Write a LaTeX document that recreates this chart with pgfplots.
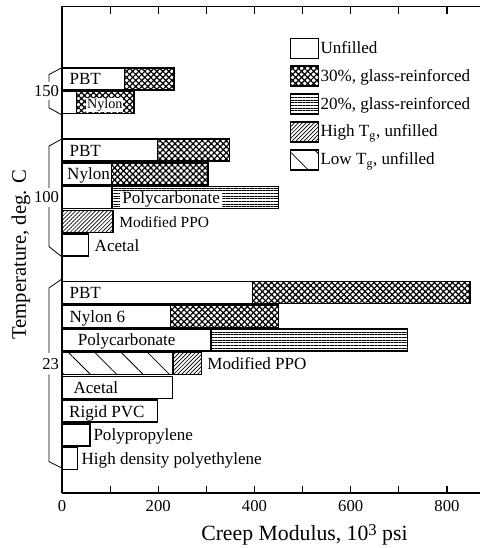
\documentclass[border=0pt]{standalone}
\usepackage{fontspec}
\setmainfont{Liberation Serif}
\usepackage{pgfplots}
\pgfplotsset{compat=1.18}
\usetikzlibrary{patterns.meta}

\newcommand\lbl{\fontsize{12.8}{14}\selectfont}

% legend swatch: a plain box drawn with the plot's own style
\pgfplotsset{legbox/.style={legend image code/.code={%
  \draw[##1, draw=black, line width=1.1pt] (0pt,-7.5pt) rectangle (21pt,7.5pt);}}}

\begin{document}
\begin{tikzpicture}
\begin{axis}[
    name=ax,
    scale only axis,
    width=313.5pt, height=364.9pt,
    xmin=0, xmax=868.6,
    ymin=-17.45, ymax=3.05,
    clip=false,
    axis x line*=box, axis y line*=left,
    axis line style={line width=1.2pt},
    xbar, bar width=0.93, bar shift=0pt,
    tick align=inside,
    major tick length=5.5pt,
    xtick={0,100,...,800},
    xticklabels={0,,200,,400,,600,,800},
    xtick style={line width=0.9pt, black},
    ytick={-12,-5,-0.5},
    yticklabels={23,100,150},
    ytick style={draw=none},
    tick label style={font=\fontsize{12.5}{14}\selectfont},
    xticklabel style={yshift=-2.3pt},
    yticklabel style={inner sep=2pt},
    /pgf/number format/assume math mode=true,
    xlabel={Creep Modulus, 10\raisebox{0.45ex}{\fontsize{12.5}{12}\selectfont 3} psi},
    every axis x label/.style={at={(rel axis cs:0.58,0)}, anchor=base,
        yshift=-35.25pt, font=\fontsize{16.3}{18}\selectfont},
    ylabel={Temperature, deg. C},
    every axis y label/.style={at={([xshift=-27pt]rel axis cs:0,0.49)},
        rotate=90, anchor=base, font=\fontsize{15.5}{17}\selectfont},
    legend style={at={(rel axis cs:0.5455,0.936)}, anchor=north west,
        draw=none, fill=none, inner sep=0pt, outer sep=0pt,
        row sep=4.8pt, font=\lbl, nodes={inner sep=0.8pt}},
    legend cell align=left,
]

% patterned parts are drawn full length, the first part is laid over them
% 30%, glass-reinforced
\addplot[forget plot, draw=black, line width=1.1pt,
    pattern={Hatch[angle=45,distance=3.2pt,line width=0.9pt]}]
coordinates {(233,0) (150,-1) (348,-3) (303,-4) (848,-9) (450,-10)};
% 20%, glass-reinforced
\addplot[forget plot, draw=black, line width=1.1pt,
    pattern={Lines[angle=0,distance=2pt,line width=0.6pt]}]
coordinates {(450,-5) (718,-11)};
% High Tg, unfilled
\addplot[forget plot, draw=black, line width=1.1pt,
    pattern={Lines[angle=45,distance=2.1pt,line width=0.5pt]}]
coordinates {(106,-6) (290,-12)};
% Unfilled
\addplot[forget plot, draw=black, line width=1.1pt, fill=white]
coordinates {(130,0) (30,-1) (198,-3) (103,-4) (104,-5) (55,-7)
    (396,-9) (226,-10) (310,-11) (230,-13) (198,-14) (58,-15) (32,-16)};
% Low Tg, unfilled
\addplot[forget plot, draw=black, line width=1.1pt, preaction={fill=white},
    pattern={Lines[angle=-45,distance=14pt,line width=0.6pt]}]
coordinates {(231,-12)};

\addlegendimage{legbox, fill=white}
\addlegendentry{Unfilled}
\addlegendimage{legbox, pattern={Hatch[angle=45,distance=3.2pt,line width=0.9pt]}}
\addlegendentry{30\%, glass-reinforced}
\addlegendimage{legbox, pattern={Lines[angle=0,distance=2pt,line width=0.6pt]}}
\addlegendentry{20\%, glass-reinforced}
\addlegendimage{legbox, pattern={Lines[angle=45,distance=2.1pt,line width=0.5pt]}}
\addlegendentry{High T\textsubscript{g}, unfilled}
\addlegendimage{legbox, pattern={Lines[angle=-45,distance=14pt,line width=0.6pt]}}
\addlegendentry{Low T\textsubscript{g}, unfilled}

% braces that group the bars by temperature
\draw[line width=0.6pt] (axis cs:0,0.476) -- ([xshift=-9.75pt]axis cs:0,0.18)
    -- ([xshift=-9.75pt]axis cs:0,-0.12);
\draw[line width=0.6pt] ([xshift=-9.75pt]axis cs:0,-0.88)
    -- ([xshift=-9.75pt]axis cs:0,-1.22) -- (axis cs:0,-1.52);
\draw[line width=0.6pt] (axis cs:0,-2.53) -- ([xshift=-9.75pt]axis cs:0,-2.83)
    -- ([xshift=-9.75pt]axis cs:0,-4.6);
\draw[line width=0.6pt] ([xshift=-9.75pt]axis cs:0,-5.4)
    -- ([xshift=-9.75pt]axis cs:0,-7.07) -- (axis cs:0,-7.5);
\draw[line width=0.6pt] (axis cs:0,-8.43) -- ([xshift=-9.75pt]axis cs:0,-8.81)
    -- ([xshift=-9.75pt]axis cs:0,-11.55);
\draw[line width=0.6pt] ([xshift=-9.75pt]axis cs:0,-12.45)
    -- ([xshift=-9.75pt]axis cs:0,-16.13) -- (axis cs:0,-16.4);

% bar names
\begin{scope}[every node/.style={font=\lbl, inner sep=0pt, anchor=base west, yshift=-4.5pt}]
\node[xshift=5.5pt] at (axis cs:0,0) {PBT};
\node[anchor=base, fill=white, inner sep=0.6pt, font=\fontsize{10.6}{12}\selectfont]
    at (axis cs:89,-1) {Nylon};
\node[xshift=5.5pt] at (axis cs:0,-3) {PBT};
\node[xshift=3.7pt] at (axis cs:0,-4) {Nylon};
\node[anchor=base, fill=white, inner xsep=1.5pt, inner ysep=0.5pt] at (axis cs:227,-5) {Polycarbonate};
\node[xshift=4.5pt, font=\fontsize{11.6}{13}\selectfont] at (axis cs:106,-6) {Modified PPO};
\node[xshift=4.5pt] at (axis cs:55,-7) {Acetal};
\node[xshift=5.5pt] at (axis cs:0,-9) {PBT};
\node[xshift=5.5pt] at (axis cs:0,-10) {Nylon 6};
\node[xshift=11.7pt] at (axis cs:0,-11) {Polycarbonate};
\node[xshift=4.2pt] at (axis cs:290,-12) {Modified PPO};
\node[xshift=8.5pt] at (axis cs:0,-13) {Acetal};
\node[xshift=5.2pt] at (axis cs:0,-14) {Rigid PVC};
\node[xshift=2.5pt] at (axis cs:58,-15) {Polypropylene};
\node[xshift=3pt] at (axis cs:32,-16) {High density polyethylene};
\end{scope}
\end{axis}
\pgfresetboundingbox
\path ([shift={(-46.5pt,-41.25pt)}]ax.south west) rectangle ([shift={(0pt,4.875pt)}]ax.north east);
\end{tikzpicture}
\end{document}
